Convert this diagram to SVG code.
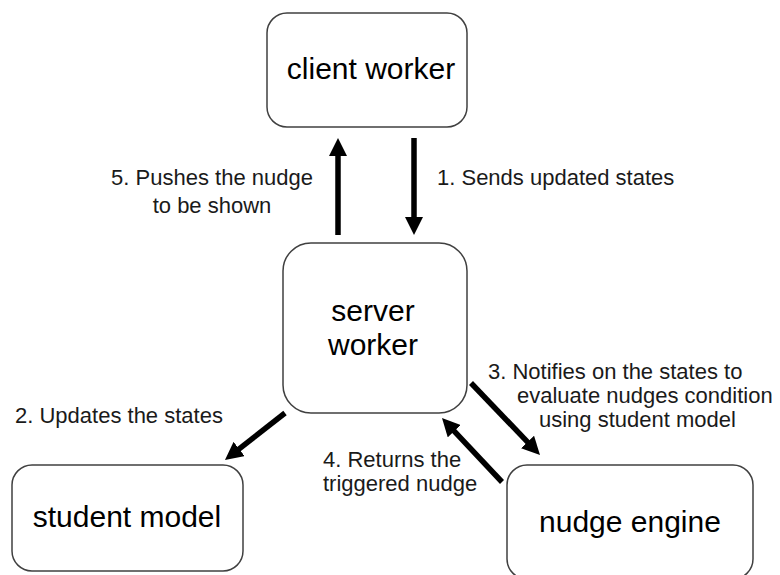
<svg xmlns="http://www.w3.org/2000/svg" width="780" height="575" viewBox="0 0 780 575">
  <style>
    .box { fill: #ffffff; stroke: #404040; stroke-width: 1.5; }
    .node { font-family: "Liberation Sans", Arial, sans-serif; font-size: 30px; fill: #000000; text-anchor: middle; }
    .lbl { font-family: "Liberation Sans", Arial, sans-serif; font-size: 22px; fill: #1a1a1a; }
    .arrow { stroke: #000000; stroke-width: 5.5; fill: none; marker-end: url(#head); }
  </style>
  <defs>
    <marker id="head" markerUnits="userSpaceOnUse" markerWidth="18" markerHeight="18" refX="6" refY="9" orient="auto">
      <path d="M0,0 L18,9 L0,18 z" fill="#000000"/>
    </marker>
  </defs>
  <rect width="780" height="575" fill="#ffffff"/>

  <g id="client-worker">
    <rect class="box" x="267" y="13" width="200" height="114" rx="20" ry="20"/>
    <text class="node" x="371" y="79">client worker</text>
  </g>

  <g id="server-worker">
    <rect class="box" x="283" y="243" width="184" height="170" rx="28" ry="28"/>
    <text class="node" x="373" y="321">server</text>
    <text class="node" x="373" y="355">worker</text>
  </g>

  <g id="student-model">
    <rect class="box" x="12" y="465" width="231" height="106" rx="20" ry="20"/>
    <text class="node" x="127" y="527">student model</text>
  </g>

  <g id="nudge-engine">
    <rect class="box" x="507" y="465" width="246" height="114" rx="20" ry="20"/>
    <text class="node" x="630" y="532">nudge engine</text>
  </g>

  <g id="connectors">
    <line class="arrow" x1="338" y1="235" x2="338" y2="150"/>
    <line class="arrow" x1="414" y1="138" x2="414" y2="223"/>
    <line class="arrow" x1="285" y1="413" x2="234.4" y2="452.6"/>
    <line class="arrow" x1="471" y1="383" x2="531.7" y2="446.3"/>
    <line class="arrow" x1="502" y1="482" x2="450.2" y2="426.8"/>
  </g>

  <g id="labels">
    <text class="lbl" x="212" y="185" text-anchor="middle">5. Pushes the nudge</text>
    <text class="lbl" x="212" y="213" text-anchor="middle">to be shown</text>
    <text class="lbl" x="437" y="185">1. Sends updated states</text>
    <text class="lbl" x="15" y="423">2. Updates the states</text>
    <text class="lbl" x="488" y="379">3. Notifies on the states to</text>
    <text class="lbl" x="517" y="403">evaluate nudges condition</text>
    <text class="lbl" x="539" y="427">using student model</text>
    <text class="lbl" x="323" y="467">4. Returns the</text>
    <text class="lbl" x="323" y="491">triggered nudge</text>
  </g>
</svg>
